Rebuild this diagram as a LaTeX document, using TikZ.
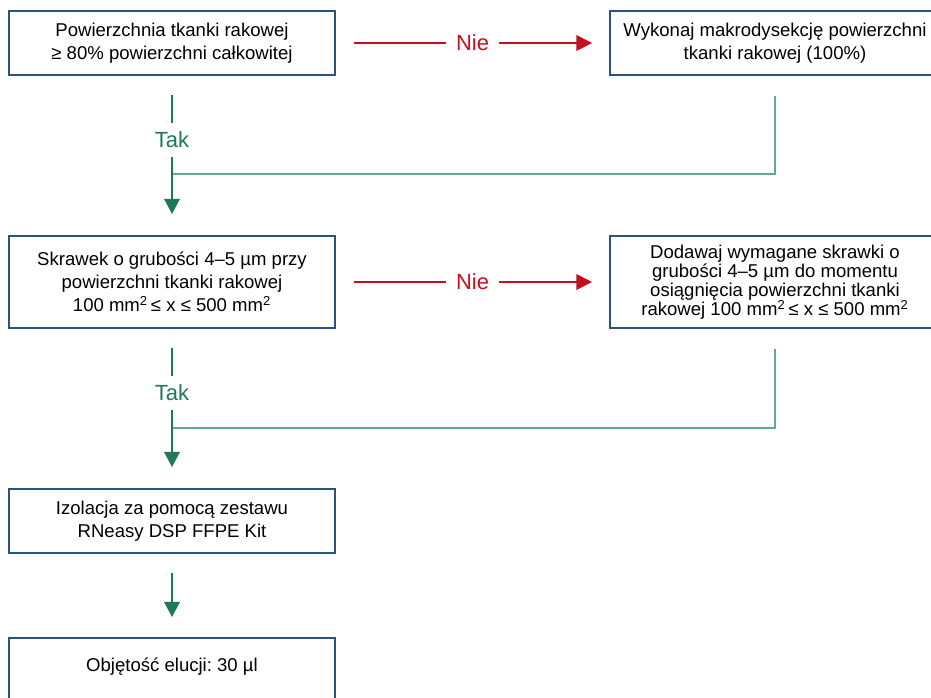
\documentclass[tikz,border=0pt]{standalone}
\usepackage{fontspec}
\setmainfont{Liberation Sans}
\usepackage{xcolor}
\usepackage{tikz}
\usetikzlibrary{arrows.meta,calc}
\frenchspacing

\definecolor{boxblue}{RGB}{44,82,128}
\definecolor{takgreen}{RGB}{30,122,86}
\definecolor{mergegreen}{RGB}{98,170,142}
\definecolor{niered}{RGB}{196,16,30}

\begin{document}
\begin{tikzpicture}[
  box/.style={draw=boxblue,line width=1.4pt,align=center,minimum width=8.15cm,
    minimum height=1.6cm,font=\fontsize{13.2}{16.4}\selectfont},
  rbox/.style={box,minimum width=8.25cm},
  nie/.style={-{Triangle[length=0.39cm,width=0.39cm]},draw=niered,line width=1.2pt,
    shorten <=0.45cm,shorten >=0.425cm},
  tak/.style={-{Triangle[length=0.38cm,width=0.39cm]},draw=takgreen,line width=1.3pt,
    shorten <=0.475cm,shorten >=0.525cm},
  merge/.style={draw=mergegreen,line width=1.3pt,shorten <=0.5cm},
  nielabel/.style={fill=white,text=niered,inner xsep=0.25cm,font=\fontsize{15.6}{18}\selectfont},
  taklabel/.style={fill=white,text=takgreen,minimum height=0.85cm,inner xsep=2pt,
    font=\fontsize{15.6}{18}\selectfont}
]
  \useasboundingbox (0,0) rectangle (23.275,-17.425);

  \node[box]  (n0) at (4.3,-1.075)    {Powierzchnia tkanki rakowej\\≥ 80\% powierzchni całkowitej};
  \node[rbox] (n1) at (19.375,-1.075) {Wykonaj makrodysekcję powierzchni\\tkanki rakowej (100\%)};
  \node[box,minimum height=2.3cm]  (n2) at (4.3,-7.05)
    {Skrawek o grubości 4–5 µm przy\\powierzchni tkanki rakowej\\100 mm\textsuperscript{2}\,≤ x ≤ 500 mm\textsuperscript{2}};
  \node[rbox,minimum height=2.3cm,font=\fontsize{13.2}{13.6}\selectfont] (n3) at (19.375,-7.05)
    {Dodawaj wymagane skrawki o\\grubości 4–5 µm do momentu\\osiągnięcia powierzchni tkanki\\rakowej 100 mm\textsuperscript{2}\,≤ x ≤ 500 mm\textsuperscript{2}};
  \node[box]  (n4) at (4.3,-13.025)   {Izolacja za pomocą zestawu\\RNeasy DSP FFPE Kit};
  \node[box,text depth=0.28cm] (n5) at (4.3,-16.75) {Objętość elucji: 30 µl};

  \coordinate (j0) at (4.3,-4.35);
  \coordinate (j1) at (4.3,-10.7);

  % powrot z prawej kolumny
  \draw[merge] (n1.south) |- (j0);
  \draw[merge] (n3.south) |- (j1);

  \draw[nie] (n0) -- node[nielabel] {Nie} (n1);
  \draw[nie] (n2) -- node[nielabel] {Nie} (n3);

  \draw[tak] (n0) -- node[taklabel,pos=0.4] {Tak} (n2);
  \draw[tak] (n2) -- node[taklabel,pos=0.4] {Tak} (n4);
  \draw[tak,shorten >=0.5cm] (n4) -- (n5);
\end{tikzpicture}
\end{document}
